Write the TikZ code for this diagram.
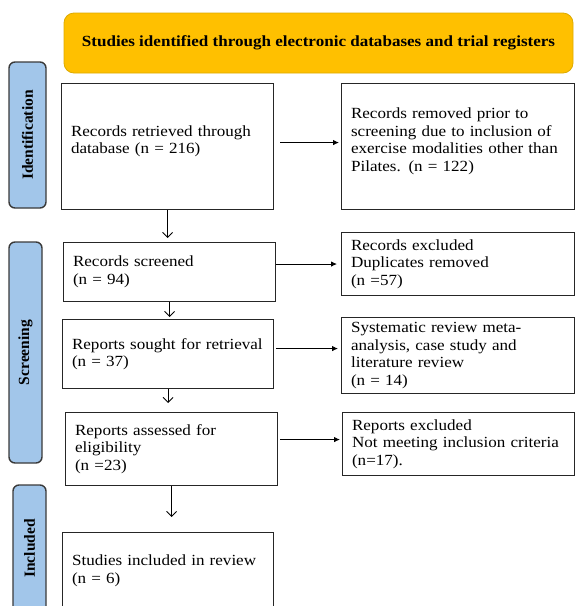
\documentclass[tikz,border=0pt]{standalone}
\usepackage{fontspec}
\setmainfont{Liberation Serif}[FakeStretch = 1.1]
\newfontfamily\stagefont{Liberation Serif}
\usetikzlibrary{arrows.meta, calc}

\definecolor{headerfill}{HTML}{FFC000}
\definecolor{headerline}{HTML}{DDAA00}
\definecolor{stagefill}{HTML}{A2C6EA}
\definecolor{stageline}{HTML}{3A3A3A}

\begin{document}
\begin{tikzpicture}[x = 1pt, y = -1pt,
	> = {Latex[length = 6pt, width = 5.5pt]},
	font = \fontsize{15.5}{17.7}\selectfont,
	box/.style = {draw = black!85, line width = 1.1pt, anchor = north west,
		inner xsep = 9.5pt, inner ysep = 2pt, align = left},
	stage/.style = {draw = stageline, fill = stagefill, line width = 1.4pt,
		rounded corners = 6pt, rotate = 90, inner sep = 0pt,
		font = \fontsize{15.5}{17.7}\selectfont\stagefont\bfseries},
	down/.style = {-{Straight Barb[length = 5pt, width = 10pt]}, line width = 0.9pt}]

	\useasboundingbox (0, 0) rectangle (575, 606);

	% Header
	
	\node [draw = headerline, fill = headerfill, rounded corners = 10pt, line width = 0.8pt,
		minimum width = 509pt, minimum height = 60pt, font = \fontsize{15.5}{17.7}\selectfont\bfseries]
		(head) at (318.5, 43) {Studies identified through electronic databases and trial registers};
	
	% Stage labels
	
	\node [stage, minimum width = 146pt, minimum height = 37pt] (ident) at (27.5, 135) {Identification};
	\node [stage, minimum width = 221pt, minimum height = 33pt] (screen) at (25.5, 352.5) {Screening};
	\node [stage, minimum width = 127pt, minimum height = 33pt] (incl) at (29.5, 548.5) {Included};
	
	% Main column
	
	\node [box, text width = 193pt, minimum height = 126pt] (b1) at (61, 83)
		{Records retrieved through\\database (n = 216)\\[-4pt]\mbox{}};
	\node [box, text width = 193pt, minimum height = 59pt] (b3) at (63, 242)
		{Records screened\\(n = 94)};
	\node [box, text width = 192pt, minimum height = 69pt] (b5) at (62, 319)
		{Reports sought for retrieval\\(n = 37)};
	\node [box, text width = 193pt, minimum height = 73pt] (b7) at (65, 412)
		{Reports assessed for\\eligibility\\(n =23)};
	\node [box, text width = 192pt, minimum height = 76pt] (b9) at (62, 532)
		{Studies included in review\\(n = 6)};
	
	% Excluded column
	
	\node [box, text width = 214pt, minimum height = 126pt] (b2) at (341, 83)
		{Records removed prior to\\screening due to inclusion of\\exercise modalities other than\\Pilates. (n = 122)\\[-4pt]\mbox{}};
	\node [box, text width = 214pt, minimum height = 63pt] (b4) at (341, 232)
		{Records excluded\\Duplicates removed\\(n =57)};
	\node [box, text width = 214pt, minimum height = 76pt] (b6) at (341, 317)
		{Systematic review meta-\\analysis, case study and\\literature review\\(n = 14)};
	\node [box, text width = 213pt, minimum height = 63pt] (b8) at (342, 412)
		{Reports excluded\\Not meeting inclusion criteria\\(n=17).};
	
	% Arrows down
	
	\draw [down, shorten > = 4pt] (b1.south) -- (b1.south |- b3.north);
	\draw [down, shorten > = 2pt] (b3.south) -- (b3.south |- b5.north);
	\draw [down, shorten > = 9pt] (b5.south) -- (b5.south |- b7.north);
	\draw [down, shorten > = 15pt] (b7.south) -- (b7.south |- b9.north);
	
	% Arrows across
	
	\draw [->, line width = 0.9pt, shorten > = 2pt] ($(b1.east |- b2.west) + (6, -4)$) -- ($(b2.west) + (0, -4)$);
	\draw [->, line width = 0.9pt, shorten > = 4pt] (b3.east |- b4.west) -- (b4.west);
	\draw [->, line width = 0.9pt, shorten > = 3pt] ($(b5.east |- b6.west) + (2, -7)$) -- ($(b6.west) + (0, -7)$);
	\draw [->, line width = 0.9pt, shorten > = 2pt] ($(b7.east |- b8.west) + (2, -4.5)$) -- ($(b8.west) + (0, -4.5)$);
	
\end{tikzpicture}
\end{document}
